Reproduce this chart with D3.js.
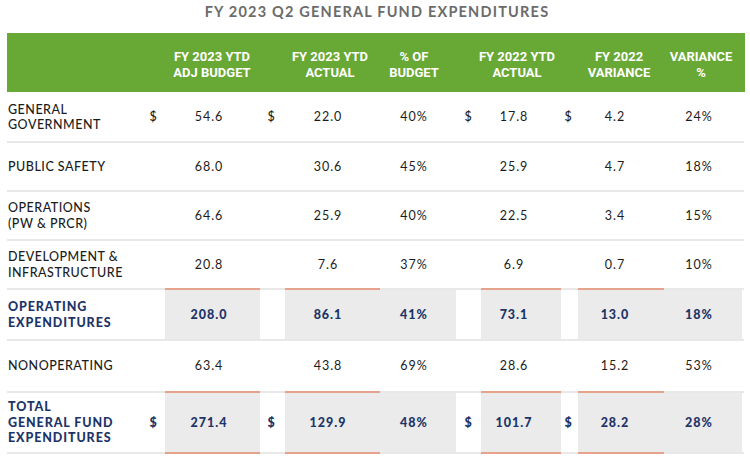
<!DOCTYPE html>
<html><head><meta charset="utf-8">
<script src="https://cdn.jsdelivr.net/npm/d3@7/dist/d3.min.js"></script>
<style>
html,body{margin:0;padding:0;background:#fff;}
svg{display:block;}
</style></head>
<body>
<svg id="chart" width="750" height="468"></svg>
<script>
// ---- data ----
const title = "FY 2023 Q2 GENERAL FUND EXPENDITURES";
const columnHeaders = [
  ["FY 2023 YTD", "ADJ BUDGET"],
  ["FY 2023 YTD", "ACTUAL"],
  ["% OF", "BUDGET"],
  ["FY 2022 YTD", "ACTUAL"],
  ["FY 2022", "VARIANCE"],
  ["VARIANCE", "%"]
];
const categories = [
  ["GENERAL", "GOVERNMENT"],
  ["PUBLIC SAFETY"],
  ["OPERATIONS", "(PW & PRCR)"],
  ["DEVELOPMENT &", "INFRASTRUCTURE"],
  ["OPERATING", "EXPENDITURES"],
  ["NONOPERATING"],
  ["TOTAL", "GENERAL FUND", "EXPENDITURES"]
];
const adjBudget   = [54.6, 68.0, 64.6, 20.8, 208.0, 63.4, 271.4];
const ytdActual   = [22.0, 30.6, 25.9, 7.6, 86.1, 43.8, 129.9];
const pctOfBudget = [40, 45, 40, 37, 41, 69, 48];
const fy22Actual  = [17.8, 25.9, 22.5, 6.9, 73.1, 28.6, 101.7];
const fy22Variance= [4.2, 4.7, 3.4, 0.7, 13.0, 15.2, 28.2];
const variancePct = [24, 18, 15, 10, 18, 53, 28];
const dollarRows  = [0, 6];
const totalRows   = [4, 6];

// ---- layout ----
const svg = d3.select("#chart");
const left = 7, right = 744;
const headerTop = 33, headerBottom = 92;
const rowHeights = [50, 49, 49, 49, 51, 52, 61];
const rowTops = rowHeights.reduce((a, h, i) => { a.push(i ? a[i-1] + rowHeights[i-1] : headerBottom); return a; }, []);
const y = i => rowTops[i] + rowHeights[i] / 2;

const fmt1 = d3.format(".1f");
const fmtPct = d => d + "%";

const cols = [
  {x: 209, vals: adjBudget,   f: fmt1,   dollar: 153, band: [165, 260], salmon: true,  hx: 212},
  {x: 328, vals: ytdActual,   f: fmt1,   dollar: 271, band: [285, 380], salmon: true,  hx: 330},
  {x: 414, vals: pctOfBudget, f: fmtPct, dollar: null, band: [380, 456], salmon: false, hx: 414},
  {x: 514, vals: fy22Actual,  f: fmt1,   dollar: 468, band: [481, 561], salmon: true,  hx: 517},
  {x: 615, vals: fy22Variance,f: fmt1,   dollar: 568, band: [578, 664], salmon: true,  hx: 619},
  {x: 699, vals: variancePct, f: fmtPct, dollar: null, band: [664, 742], salmon: false, hx: 701}
];

const navy = "#1d3468", ink = "#1c1c1c", salmon = "#e6a38c", bandGray = "#ebebeb", lineGray = "#e8e8e8";
const bodyFont = "'Lato', 'Open Sans', sans-serif";

// title
svg.append("text").attr("x", 377).attr("y", 12).attr("dy", "0.35em")
  .attr("text-anchor", "middle").attr("fill", "#6b6b6b")
  .style("font-family", bodyFont).style("font-weight", 700)
  .style("font-size", "14.5px").style("letter-spacing", "1.2px").text(title);

// header
svg.append("rect").attr("x", left).attr("y", headerTop).attr("width", right - left + 1)
  .attr("height", headerBottom - headerTop).attr("fill", "#68a834");
const hdr = svg.append("g");
cols.forEach((c, ci) => {
  columnHeaders[ci].forEach((t, li) => {
    hdr.append("text").attr("x", c.hx).attr("y", 56 + li * 16).attr("dy", "0.35em")
      .attr("text-anchor", "middle").attr("fill", "#fff")
      .style("font-family", "'Liberation Sans Narrow', 'Roboto', sans-serif")
      .style("font-weight", 700).style("font-size", "13px").text(t);
  });
});

// bands for total rows
totalRows.forEach(r => {
  const top = rowTops[r], h = rowHeights[r];
  cols.forEach(c => {
    svg.append("rect").attr("x", c.band[0]).attr("y", top).attr("width", c.band[1] - c.band[0])
      .attr("height", h).attr("fill", bandGray);
  });
});

// row separators
rowTops.concat([rowTops[6] + rowHeights[6]]).slice(1).forEach(yy => {
  svg.append("rect").attr("x", left).attr("y", yy - 1).attr("width", right - left)
    .attr("height", 2).attr("fill", lineGray);
});

// salmon lines
totalRows.forEach(r => {
  const top = rowTops[r], bot = rowTops[r] + rowHeights[r];
  cols.filter(c => c.salmon).forEach(c => {
    svg.append("rect").attr("x", c.band[0]).attr("y", top - 1).attr("width", c.band[1] - c.band[0])
      .attr("height", 2).attr("fill", salmon);
    if (r === 6) {
      svg.append("rect").attr("x", c.band[0]).attr("y", bot - 1).attr("width", c.band[1] - c.band[0])
        .attr("height", 2).attr("fill", salmon);
    }
  });
});

// labels
categories.forEach((lines, r) => {
  const bold = totalRows.includes(r);
  const lh = 15.5;
  const y0 = y(r) - (lines.length - 1) * lh / 2;
  lines.forEach((t, li) => {
    svg.append("text").attr("x", 8).attr("y", y0 + li * lh).attr("dy", "0.35em")
      .attr("fill", bold ? navy : ink)
      .style("font-family", bodyFont).style("font-weight", bold ? 900 : 500)
      .style("font-size", "12.5px").style("letter-spacing", bold ? "0.9px" : "0.5px").text(t);
  });
});

// values
categories.forEach((_, r) => {
  const bold = totalRows.includes(r);
  cols.forEach(c => {
    svg.append("text").attr("x", c.x).attr("y", y(r)).attr("dy", "0.35em")
      .attr("text-anchor", "middle").attr("fill", bold ? navy : ink)
      .style("font-family", bodyFont).style("font-weight", bold ? 900 : 400)
      .style("font-size", "12.5px").style("letter-spacing", "1px").text(c.f(c.vals[r]));
    if (c.dollar !== null && dollarRows.includes(r)) {
      svg.append("text").attr("x", c.dollar).attr("y", y(r)).attr("dy", "0.35em")
        .attr("text-anchor", "middle").attr("fill", bold ? navy : ink)
        .style("font-family", bodyFont).style("font-weight", bold ? 900 : 500)
        .style("font-size", "12.5px").text("$");
    }
  });
});
</script>
</body></html>
